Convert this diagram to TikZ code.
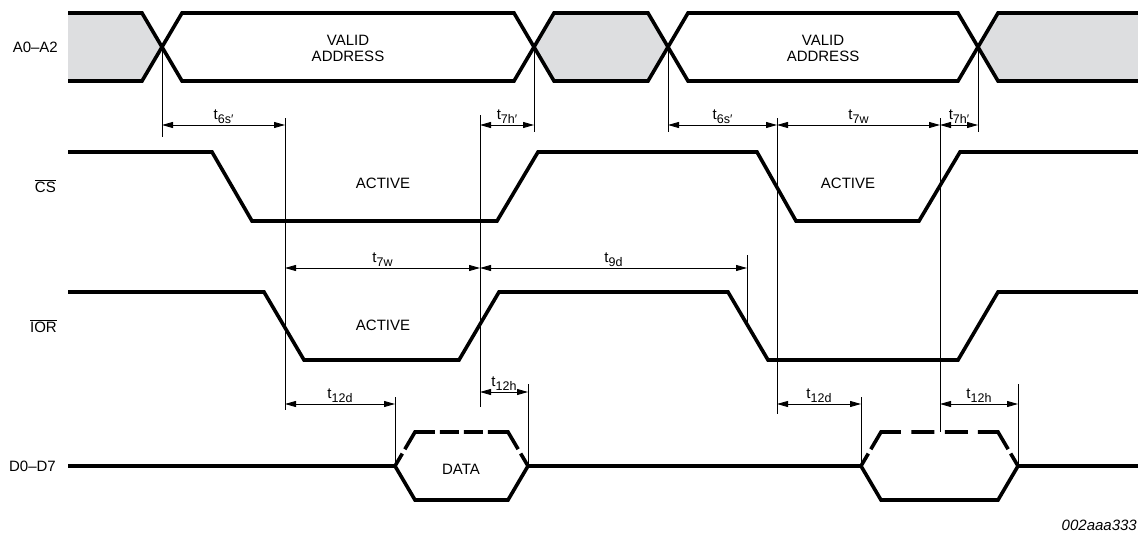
\documentclass[tikz,border=0pt]{standalone}
\usepackage{fontspec}
\setmainfont{Liberation Sans}
\usetikzlibrary{arrows.meta}

\definecolor{busgray}{RGB}{221,222,224}
\newcommand{\tlabel}[1]{t\raisebox{-4pt}{\fontsize{12.5}{12.5}\selectfont #1}}

\begin{document}
\begin{tikzpicture}[x=1pt, y=-1pt, font=\fontsize{15}{16}\selectfont,
            signal/.style={line width=3.6pt, line join=miter},
            guide/.style={line width=0.8pt},
            dim/.style={line width=0.8pt, {Triangle[length=11pt,width=6pt]}-{Triangle[length=11pt,width=6pt]}},
            dimlabel/.style={above=0pt, inner sep=1pt},
            siglabel/.style={anchor=east, inner sep=0pt}]

            \useasboundingbox (0,0) rectangle (1138,533);

            % Address bus: shaded invalid parts
            \fill[busgray] (68,13) -- (142,13) -- (162,47) -- (142,81) -- (68,81) -- cycle;
            \fill[busgray] (534,47) -- (554,13) -- (648,13) -- (668,47) -- (648,81) -- (554,81) -- cycle;
            \fill[busgray] (978,47) -- (998,13) -- (1138,13) -- (1138,81) -- (998,81) -- cycle;
            \draw[signal] (68,13) -- (142,13) -- (182,81) -- (514,81) -- (554,13) -- (648,13)
                -- (688,81) -- (958,81) -- (998,13) -- (1138,13);
            \draw[signal] (68,81) -- (142,81) -- (182,13) -- (514,13) -- (554,81) -- (648,81)
                -- (688,13) -- (958,13) -- (998,81) -- (1138,81);
            \node[siglabel] (addr) at (58,47) {A0--A2};
            \node[align=center] (valid1) at (348,48) {VALID\\ADDRESS};
            \node[align=center] (valid2) at (823,48) {VALID\\ADDRESS};

            % Chip select
            \draw[signal] (68,152) -- (212,152) -- (252,221) -- (497,221) -- (538,152)
                -- (757,152) -- (796,221) -- (919,221) -- (960,152) -- (1138,152);
            \node[siglabel] (cs) at (56,186) {$\overline{\mbox{CS}}$};
            \node (csact1) at (383,183) {ACTIVE};
            \node (csact2) at (848,183) {ACTIVE};

            % Read strobe
            \draw[signal] (68,292) -- (264,292) -- (304,360) -- (459,360) -- (499,292)
                -- (728,292) -- (768,360) -- (958,360) -- (998,292) -- (1138,292);
            \node[siglabel] (ior) at (57,326) {$\overline{\mbox{IOR}}$};
            \node (ioract) at (383,325) {ACTIVE};

            % Data bus
            \draw[signal] (68,466) -- (395,466) -- (415,500) -- (508,500) -- (528,466)
                -- (861,466) -- (881,500) -- (998,500) -- (1018,466) -- (1138,466);
            \draw[signal, dash pattern=on 14.4pt off 5pt on 40pt off 5pt on 19pt off 5pt on 19pt off 5pt on 40pt off 5pt on 20pt]
                (395,466) -- (415,432) -- (508,432) -- (528,466);
            \draw[signal, dash pattern=on 14.4pt off 5pt on 40pt off 10.5pt on 23pt off 10.5pt on 23pt off 10pt on 40pt off 5pt on 20pt]
                (861,466) -- (881,432) -- (998,432) -- (1018,466);
            \node[siglabel] (data) at (56,466) {D0--D7};
            \node (dval) at (461,469) {DATA};

            % Guide lines
            \foreach \gx/\gtop/\gbot in {162/47/137, 285/118/410, 480/115/407, 534/47/132,
                    668/47/132, 777/118/414, 940/118/432, 978/47/132, 747/255/324,
                    395/397/466, 528/384/466, 861/397/466, 1018/384/466}
                \draw[guide] (\gx,\gtop) -- (\gx,\gbot);

            % Timing arrows
            \coordinate (s6a) at (162,125); \coordinate (s6b) at (285,125);
            \coordinate (h7a) at (480,125); \coordinate (h7b) at (534,125);
            \coordinate (s6c) at (668,125); \coordinate (w7c) at (777,125);
            \coordinate (w7d) at (940,125); \coordinate (h7d) at (978,125);
            \coordinate (w7a) at (285,268); \coordinate (w7b) at (480,268);
            \coordinate (d9b) at (747,268);
            \coordinate (d12a) at (285,404); \coordinate (d12b) at (395,404);
            \coordinate (h12a) at (480,392); \coordinate (h12b) at (528,392);
            \coordinate (d12c) at (777,404); \coordinate (d12d) at (861,404);
            \coordinate (h12c) at (940,404); \coordinate (h12d) at (1018,404);

            \draw[dim] (s6a) -- node[dimlabel] {\tlabel{6s′}} (s6b);
            \draw[dim] (h7a) -- node[dimlabel] {\tlabel{7h′}} (h7b);
            \draw[dim] (s6c) -- node[dimlabel] {\tlabel{6s′}} (w7c);
            \draw[dim] (w7c) -- node[dimlabel] {\tlabel{7w}} (w7d);
            \draw[dim] (w7d) -- node[dimlabel] {\tlabel{7h′}} (h7d);
            \draw[dim] (w7a) -- node[dimlabel] {\tlabel{7w}} (w7b);
            \draw[dim] (w7b) -- node[dimlabel] {\tlabel{9d}} (d9b);
            \draw[dim] (d12a) -- node[dimlabel] {\tlabel{12d}} (d12b);
            \draw[dim] (h12a) -- node[dimlabel] {\tlabel{12h}} (h12b);
            \draw[dim] (d12c) -- node[dimlabel] {\tlabel{12d}} (d12d);
            \draw[dim] (h12c) -- node[dimlabel] {\tlabel{12h}} (h12d);

            % Figure code
            \node[anchor=east, inner sep=0pt, font=\fontsize{15}{15}\selectfont\itshape] (figid) at (1137,525) {002aaa333};
        \end{tikzpicture}
\end{document}
